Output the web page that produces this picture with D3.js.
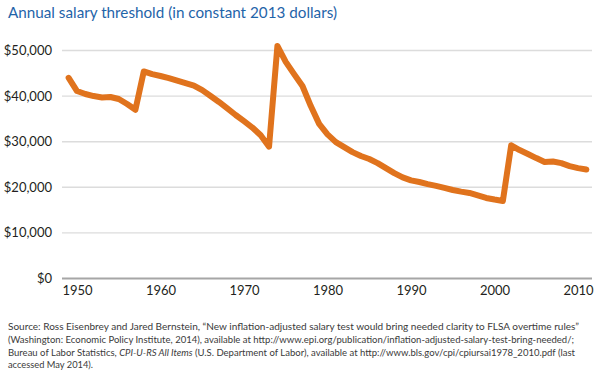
<!DOCTYPE html>
<html>
<head>
<meta charset="utf-8">
<script src="https://cdn.jsdelivr.net/npm/d3@7"></script>
<style>
  body { margin: 0; background: #fff; }
  svg { display: block; font-family: Lato, "Open Sans", sans-serif; }
  .title { fill: #1f64a9; font-size: 15.3px; }
  .axis text { fill: #231f20; font-size: 13px; font-family: Lato, sans-serif; }
  .source { fill: #3a3a3a; font-size: 9.8px; }
</style>
</head>
<body>
<div id="chart"></div>
<script>
// annual values, 1949-2011
const years = d3.range(1949, 2012);
const salary = [
    43900, 41000, 40350, 39900, 39600, 39700, 39250, 38150, 36900, 45300,
    44700, 44300, 43850, 43300, 42750, 42200, 41200, 39900, 38600, 37200,
    35750, 34400, 33000, 31300, 28800, 50900, 47400, 44700, 42100, 37700,
    33800, 31500, 29800, 28700, 27600, 26750, 26100, 25200, 24100, 23000,
    22050, 21400, 21050, 20600, 20200, 19750, 19300, 18950, 18650, 18100,
    17550, 17200, 16900, 29100, 28050, 27200, 26300, 25450, 25550, 25200,
    24550, 24100, 23800
];
const yTicks = [0, 10000, 20000, 30000, 40000, 50000];
const xTicks = [1950, 1960, 1970, 1980, 1990, 2000, 2010];

const data = years.map((yr, i) => ({ year: yr, value: salary[i] }));

const width = 600, height = 375;
const svg = d3.select("#chart").append("svg")
    .attr("width", width)
    .attr("height", height);

const plotLeft = 62, plotRight = 592;

// Scales
const x = d3.scaleLinear().domain([1950, 2010]).range([77, 578]);
const y = d3.scaleLinear().domain([0, 50000]).range([278, 50]);

// Title
svg.append("text")
    .attr("class", "title")
    .attr("x", 8)
    .attr("y", 18)
    .attr("textLength", 329)
    .attr("lengthAdjust", "spacingAndGlyphs")
    .text("Annual salary threshold (in constant 2013 dollars)");

// Y axis with gridlines
const yAxis = d3.axisLeft(y)
    .tickValues(yTicks)
    .tickSize(-(plotRight - plotLeft))
    .tickPadding(10)
    .tickFormat(d => "$" + d3.format(",")(d));

const yAxisGroup = svg.append("g")
    .attr("class", "axis")
    .attr("transform", `translate(${plotLeft},0)`)
    .call(yAxis);
yAxisGroup.select(".domain").remove();
yAxisGroup.selectAll(".tick line")
    .attr("stroke", d => d === 0 ? "#a6a6a6" : "#dcdcdc")
    .attr("stroke-width", d => d === 0 ? 2.2 : 1.4);
yAxisGroup.selectAll(".tick text").attr("dy", "0.35em");

// X axis labels
const xAxisGroup = svg.append("g")
    .attr("class", "axis")
    .attr("transform", `translate(0,${y(0)})`)
    .call(d3.axisBottom(x).tickValues(xTicks).tickSize(0).tickPadding(8).tickFormat(d3.format("d")));
xAxisGroup.select(".domain").remove();

// Line
const line = d3.line()
    .x(d => x(d.year))
    .y(d => y(d.value));

svg.append("path")
    .datum(data)
    .attr("fill", "none")
    .attr("stroke", "#e0731d")
    .attr("stroke-width", 6)
    .attr("stroke-linejoin", "round")
    .attr("stroke-linecap", "round")
    .attr("d", line);

// Source note, one text per line so each can be fitted to the reference width
const lines = [
    [[["Source: Ross Eisenbrey and Jared Bernstein, \u201cNew inflation-adjusted salary test would bring needed clarity to FLSA overtime rules\u201d", false]], 571],
    [[["(Washington: Economic Policy Institute, 2014), available at http://www.epi.org/publication/inflation-adjusted-salary-test-bring-needed/;", false]], 566],
    [[["Bureau of Labor Statistics, ", false], ["CPI-U-RS All Items", true], [" (U.S. Department of Labor), available at http://www.bls.gov/cpi/cpiursai1978_2010.pdf (last", false]], 567],
    [[["accessed May 2014).", false]], 85]
];
lines.forEach(([parts, len], i) => {
    const t = svg.append("text")
        .attr("class", "source")
        .attr("x", 8)
        .attr("y", 330 + i * 12.8)
        .attr("textLength", len)
        .attr("lengthAdjust", "spacingAndGlyphs");
    parts.forEach(([s, it]) => {
        const ts = t.append("tspan").text(s);
        if (it) ts.attr("font-style", "italic");
    });
});
</script>
</body>
</html>
